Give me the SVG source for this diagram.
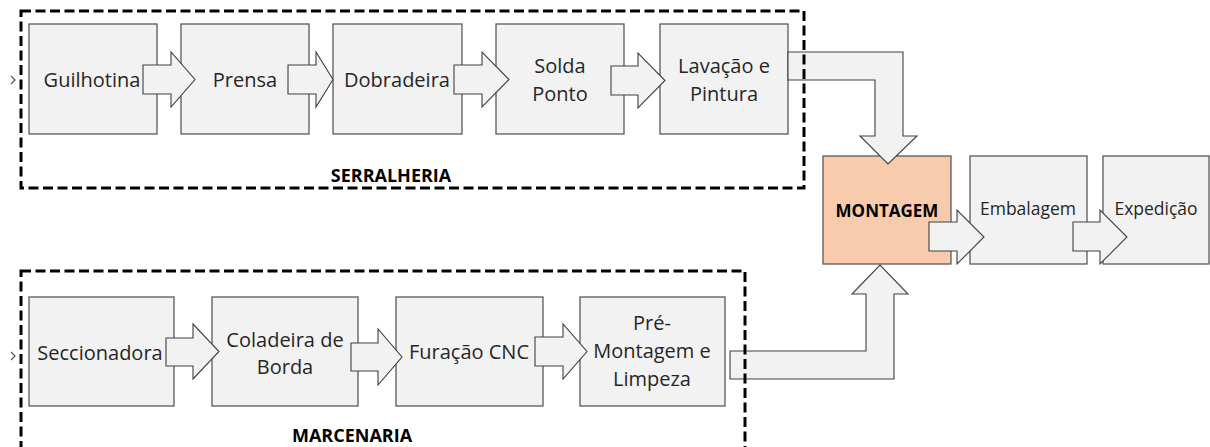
<svg xmlns="http://www.w3.org/2000/svg" width="1210" height="447" viewBox="0 0 1210 447">
<style>
.box{fill:#f2f2f2;stroke:#595959;stroke-width:1.3}
.mont{fill:#f8cbad;stroke:#595959;stroke-width:1.3}
.arr{fill:#f2f2f2;stroke:#404040;stroke-width:1.1;stroke-linejoin:miter}
.grp{fill:none;stroke:#000;stroke-width:3;stroke-dasharray:10 4.5}
.t{font-family:"Open Sans","Liberation Sans",sans-serif;font-size:20px;fill:#262626;text-anchor:middle}
.s{font-size:17.5px}
.b{font-family:"Open Sans","Liberation Sans",sans-serif;font-weight:bold;font-size:18px;fill:#000;text-anchor:middle}
.chev{fill:none;stroke:#555;stroke-width:1.2}
</style>
<rect width="1210" height="447" fill="#fff"/>
<g id="nodes">
<g id="guilhotina"><rect class="box" x="29" y="24" width="128" height="110"/></g>
<g id="prensa"><rect class="box" x="181" y="24" width="128" height="110"/></g>
<g id="dobradeira"><rect class="box" x="333" y="24" width="129" height="110"/></g>
<g id="solda"><rect class="box" x="496" y="24" width="128" height="110"/></g>
<g id="lavacao"><rect class="box" x="660" y="24" width="128" height="110"/></g>
<g id="montagem"><rect class="mont" x="823" y="156" width="128" height="108"/></g>
<g id="embalagem"><rect class="box" x="970" y="156" width="117" height="108"/></g>
<g id="expedicao"><rect class="box" x="1103" y="156" width="106" height="108"/></g>
<g id="seccionadora"><rect class="box" x="29" y="297" width="145" height="109"/></g>
<g id="coladeira"><rect class="box" x="212" y="297" width="146" height="109"/></g>
<g id="furacao"><rect class="box" x="396" y="297" width="147" height="109"/></g>
<g id="premontagem"><rect class="box" x="580" y="297" width="145" height="109"/></g>
</g>
<g id="connectors">
<polyline class="chev" points="11,76 15,80 11,84"/>
<polyline class="chev" points="11,352 15,356 11,360"/>
<polygon class="arr" points="143,65 171,65 171,52 195,79.5 171,107 171,94 143,94"/>
<polygon class="arr" points="288,65 316,65 316,52 333,79.5 316,107 316,94 288,94"/>
<polygon class="arr" points="454,65 482,65 482,52 509,79.5 482,107 482,94 454,94"/>
<polygon class="arr" points="611,66 638,66 638,53 665,80.5 638,108 638,95 611,95"/>
<polygon class="arr" points="788,52 903,52 903,136 917,136 888,164 860,136 875,136 875,80 788,80"/>
<polygon class="arr" points="929,222 957,222 957,210 984,237 957,264 957,251 929,251"/>
<polygon class="arr" points="1073,222 1100,222 1100,210 1127,237 1100,264 1100,251 1073,251"/>
<polygon class="arr" points="166,338 193,338 193,324 219,351.5 193,379 193,366 166,366"/>
<polygon class="arr" points="351,343 378,343 378,329 402,357 378,385 378,371 351,371"/>
<polygon class="arr" points="535,337 563,337 563,324 587,351.5 563,379 563,366 535,366"/>
<polygon class="arr" points="730,351 866,351 866,294 852,294 880,265 908,294 894,294 894,379 730,379"/>
</g>
<g id="serralheria">
<rect class="grp" x="21" y="11" width="783" height="177"/>
<text class="b" x="391" y="182">SERRALHERIA</text>
</g>
<g id="marcenaria">
<rect class="grp" x="21" y="271" width="724" height="178"/>
<text class="b" x="352" y="442">MARCENARIA</text>
</g>
<g id="labels">
<text class="t" x="92" y="87">Guilhotina</text>
<text class="t" x="245" y="87">Prensa</text>
<text class="t" x="397" y="87">Dobradeira</text>
<text class="t" x="560" y="73">Solda</text>
<text class="t" x="560" y="101">Ponto</text>
<text class="t" x="724" y="73">Lavação e</text>
<text class="t" x="724" y="101">Pintura</text>
<text class="b" x="887" y="217" style="font-size:17px">MONTAGEM</text>
<text class="t s" x="1028" y="215">Embalagem</text>
<text class="t s" x="1156" y="215">Expedição</text>
<text class="t" x="100" y="360">Seccionadora</text>
<text class="t" x="285" y="347">Coladeira de</text>
<text class="t" x="285" y="374">Borda</text>
<text class="t" x="469" y="359">Furação CNC</text>
<text class="t" x="652" y="330">Pré-</text>
<text class="t" x="652" y="358">Montagem e</text>
<text class="t" x="652" y="386">Limpeza</text>
</g>
</svg>
